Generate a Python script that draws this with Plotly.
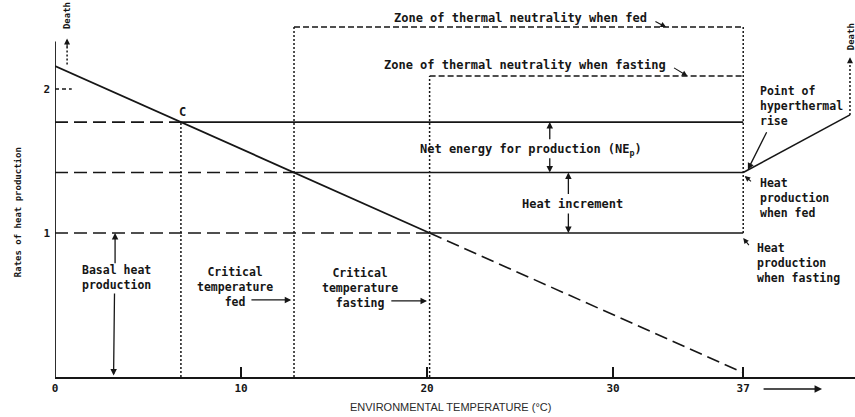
import plotly.graph_objects as go

# ---- values (temperatures in °C, heat production in relative units) ----
t_origin = 0.0
t_point_c = 6.77          # point C on the cold line
t_crit_fed = 12.85        # critical temperature, fed
t_crit_fast = 20.14       # critical temperature, fasting
t_body = 37.0             # point of hyperthermal rise
t_death_hot = 42.74       # hot-side limit (death)

hp_cold_start = 2.16      # heat production at 0 °C
hp_point_c = 1.77         # level of point C
hp_fed = 1.42             # heat production when fed
hp_fast = 1.00            # heat production when fasting (basal)
hp_at_37 = 0.03           # cold line extended to 37 °C
hp_hyper_end = 1.82       # heat production at the hot-side limit
zone_fed_top = 2.43
zone_fast_top = 2.09
axis_top = 2.33

cold_solid_t = [t_origin, t_point_c, t_crit_fed, t_crit_fast]
cold_solid_hp = [hp_cold_start, hp_point_c, hp_fed, hp_fast]
cold_dash_t = [t_crit_fast, t_body]
cold_dash_hp = [hp_fast, hp_at_37]

x_tick_vals = [0, 10, 20, 30, 37]
x_tick_text = ["0", "10", "20", "30", "37"]
y_tick_vals = [1, 2]
y_tick_text = ["1", "2"]

INK = "#161616"
MONO = "DejaVu Sans Mono"

fig = go.Figure()


def seg(xs, ys, dash="solid", width=1.6):
    fig.add_trace(go.Scatter(x=xs, y=ys, mode="lines", hoverinfo="skip",
                             showlegend=False,
                             line=dict(color=INK, width=width, dash=dash)))


LONG = "13px,6px"
ZONE = "6px,3px"
DOT = "2px,2px"

# cold line: solid to the fasting critical temperature, dashed beyond
seg(cold_solid_t, cold_solid_hp, width=1.8)
seg(cold_dash_t, cold_dash_hp, dash=LONG, width=1.6)

# level of point C / fed / fasting heat production
seg([t_origin, t_point_c], [hp_point_c, hp_point_c], dash=LONG)
seg([t_point_c, t_body], [hp_point_c, hp_point_c])
seg([t_origin, t_crit_fed], [hp_fed, hp_fed], dash=LONG)
seg([t_crit_fed, t_body], [hp_fed, hp_fed])
seg([t_origin, t_crit_fast], [hp_fast, hp_fast], dash=LONG)
seg([t_crit_fast, t_body], [hp_fast, hp_fast])

# hyperthermal rise
seg([t_body, t_death_hot], [hp_fed, hp_hyper_end], width=1.6)
seg([t_death_hot, t_death_hot], [hp_hyper_end, 2.19], dash=DOT, width=1.5)

# critical temperature verticals
seg([t_point_c, t_point_c], [0, hp_point_c], dash=DOT, width=1.5)
seg([t_crit_fed, t_crit_fed], [0, zone_fed_top], dash=DOT, width=1.5)
seg([t_crit_fast, t_crit_fast], [0, zone_fast_top], dash=DOT, width=1.5)
seg([t_body, t_body], [zone_fed_top, hp_fast], dash=DOT, width=1.5)

# zones of thermal neutrality
seg([t_crit_fed, t_body], [zone_fed_top, zone_fed_top], dash=ZONE, width=1.4)
seg([t_crit_fast, t_body], [zone_fast_top, zone_fast_top], dash=ZONE, width=1.4)

# y axis and tick mark at 2
seg([t_origin, t_origin], [0, axis_top], width=1.8)
seg([t_origin, 0.9], [2, 2], dash="4px,3px", width=1.4)
# cold-side limit (death)
seg([0.65, 0.65], [2.17, 2.30], dash=DOT, width=1.5)


def label(x, y, text, xanchor="center", size=12, angle=0, xref="x",
          align="center"):
    fig.add_annotation(x=x, y=y, xref=xref, yref="y", text=text,
                       showarrow=False, xanchor=xanchor, yanchor="middle",
                       textangle=angle, align=align,
                       font=dict(family=MONO, size=size, color=INK,
                                 weight="bold"))


def arrow(x0, y0, x1, y1, width=1.3, head=2):
    fig.add_annotation(x=x1, y=y1, ax=x0, ay=y0, xref="x", yref="y",
                       axref="x", ayref="y", text="", showarrow=True,
                       arrowhead=head, arrowsize=1, arrowwidth=width,
                       arrowcolor=INK, standoff=0)


label(25.05, 2.493, "Zone of thermal neutrality when fed")
label(25.27, 2.167, "Zone of thermal neutrality when fasting")
arrow(32.2, 2.475, 32.85, 2.43, width=1.1)
arrow(33.2, 2.153, 34.0, 2.09, width=1.1)

label(6.88, 1.84, "C")

label(25.59, 1.576, "Net energy for production (NE<sub>p</sub>)")
arrow(26.6, 1.64, 26.6, hp_point_c)
arrow(26.6, 1.53, 26.6, hp_fed)

label(27.8, 1.20, "Heat increment")
arrow(27.6, 1.26, 27.6, hp_fed)
arrow(27.6, 1.146, 27.6, hp_fast)

ML = 11.5  # size of the multi-line labels

label(3.28, 0.694, "Basal heat<br>production", size=ML)
arrow(3.23, 0.78, 3.23, hp_fast)
arrow(3.2, 0.59, 3.15, 0.01)

label(9.7, 0.625, "Critical<br>temperature<br>fed", size=ML)
arrow(10.48, 0.535, 12.7, 0.535)

label(16.4, 0.618, "Critical<br>temperature<br>fasting", size=ML)
arrow(18.0, 0.528, 20.0, 0.528)

label(37.8, 1.882, "Point of<br>hyperthermal<br>rise", xanchor="left",
      size=ML, align="left")
arrow(38.3, 1.71, 37.25, 1.44)

label(37.8, 1.243, "Heat<br>production<br>when fed", xanchor="left",
      size=ML, align="left")
arrow(37.5, 1.35, 37.08, 1.395, width=1.1)

label(37.63, 0.792, "Heat<br>production<br>when fasting", xanchor="left",
      size=ML, align="left")
arrow(37.37, 0.905, 37.0, 0.965, width=1.1)

# death markers
label(0.62, 2.51, "Death", size=9, angle=-90)
arrow(0.65, 2.28, 0.65, 2.35, width=1.2)
label(42.8, 2.36, "Death", size=9, angle=-90)
arrow(t_death_hot, 2.17, t_death_hot, 2.22, width=1.2)

# y-axis title
label(-0.046, 1.146, "Rates of heat production", size=9, angle=-90,
      xref="paper")

# x-axis title and arrow
fig.add_annotation(x=0.494, y=-0.0796, xref="paper", yref="paper",
                   text="ENVIRONMENTAL TEMPERATURE (°C)", showarrow=False,
                   xanchor="center", yanchor="middle",
                   font=dict(family="Liberation Sans", size=11, color="#2a2a2a"))
fig.add_annotation(x=41.24, y=-0.032, xref="x", yref="paper",
                   ax=-60, ay=0, text="", showarrow=True, arrowhead=2,
                   arrowsize=1, arrowwidth=1.5, arrowcolor=INK, standoff=0)

fig.update_layout(
    width=855, height=417,
    margin=dict(l=55, r=0, t=0, b=40),
    paper_bgcolor="white", plot_bgcolor="white",
    xaxis=dict(range=[0, 43.01], showgrid=False, zeroline=False,
               showline=True, linecolor=INK, linewidth=2,
               tickvals=x_tick_vals, ticktext=x_tick_text,
               ticks="inside", ticklen=10, tickwidth=1.5, tickcolor=INK,
               tickfont=dict(family=MONO, size=11, color=INK, weight="bold")),
    yaxis=dict(range=[0, 2.618], showgrid=False, zeroline=False,
               showline=False, tickvals=y_tick_vals, ticktext=y_tick_text,
               ticks="", ticklabelstandoff=4,
               tickfont=dict(family=MONO, size=11, color=INK, weight="bold")),
)

fig.write_html("out.html")
